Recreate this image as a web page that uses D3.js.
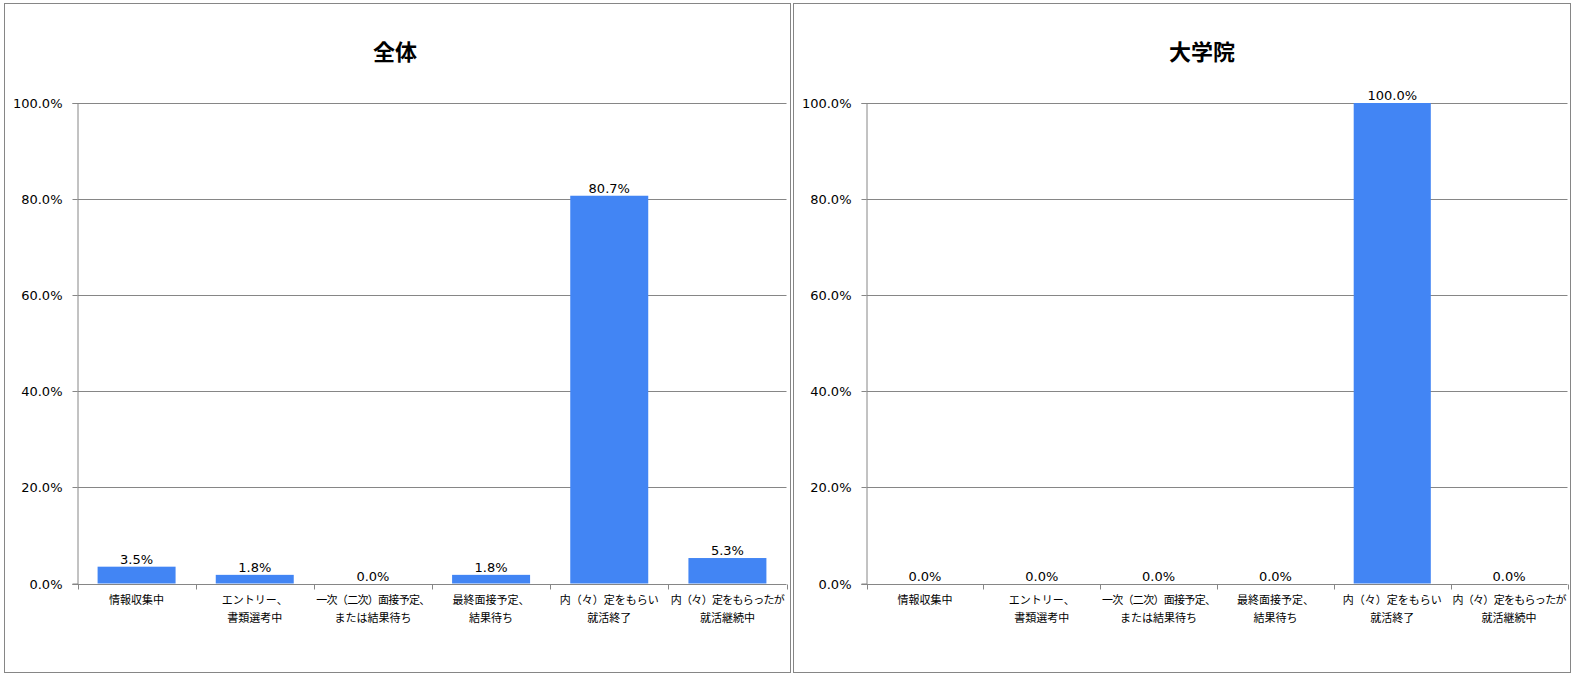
<!DOCTYPE html>
<html>
<head>
<meta charset="utf-8">
<script src="https://cdn.jsdelivr.net/npm/d3@7"></script>
<style>
  html, body { margin: 0; padding: 0; background: #fff; }
  svg { display: block; }
</style>
</head>
<body>
<svg id="chart" width="1577" height="678"></svg>
<script>
// Job-hunting status categories (two-line axis labels)
const categories = [
  ["情報収集中"],
  ["エントリー、", "書類選考中"],
  ["一次（二次）面接予定、", "または結果待ち"],
  ["最終面接予定、", "結果待ち"],
  ["内（々）定をもらい", "就活終了"],
  ["内（々）定をもらったが", "就活継続中"]
];

// Share of respondents (%) per category
const valuesAll = [3.5, 1.8, 0.0, 1.8, 80.7, 5.3];
const valuesGrad = [0.0, 0.0, 0.0, 0.0, 100.0, 0.0];

const yTicks = [0, 20, 40, 60, 80, 100];

const panels = [
  { title: "全体",   values: valuesAll,  box: [4.5, 3.5, 786, 669], plot: [77.5, 786.5], titleX: 395 },
  { title: "大学院", values: valuesGrad, box: [793.5, 3.5, 777, 669], plot: [866.5, 1567.5], titleX: 1202 }
];

const svg = d3.select("#chart");
const gridColor = "#868686";
const barColor = "#4285F4";
const numFont = "'DejaVu Sans', Verdana, sans-serif";
const cjkFont = "'Noto Sans CJK JP', 'Noto Sans', sans-serif";

panels.forEach(p => {
  const g = svg.append("g");

  // panel frame
  g.append("rect")
    .attr("x", p.box[0]).attr("y", p.box[1])
    .attr("width", p.box[2]).attr("height", p.box[3])
    .attr("fill", "#fff").attr("stroke", gridColor).attr("stroke-width", 1);

  // title
  g.append("text")
    .attr("x", p.titleX).attr("y", 60)
    .attr("text-anchor", "middle")
    .attr("font-family", cjkFont)
    .attr("font-weight", "bold")
    .attr("font-size", 22)
    .attr("fill", "#000")
    .text(p.title);

  const y = d3.scaleLinear().domain([0, 100]).range([583.5, 103]);
  const x = d3.scaleBand()
    .domain(d3.range(categories.length))
    .range(p.plot)
    .paddingInner(0.34)
    .paddingOuter(0.17);

  // horizontal gridlines
  g.append("g")
    .selectAll("line")
    .data(yTicks.filter(t => t > 0))
    .join("line")
    .attr("x1", p.plot[0]).attr("x2", p.plot[1])
    .attr("y1", d => Math.round(y(d)) + 0.5)
    .attr("y2", d => Math.round(y(d)) + 0.5)
    .attr("stroke", gridColor).attr("stroke-width", 1);

  // y axis
  const yAxis = g.append("g")
    .attr("transform", `translate(${p.plot[0]},0)`)
    .call(d3.axisLeft(y).tickValues(yTicks).tickSize(5).tickPadding(10)
      .tickFormat(d => d.toFixed(1) + "%"));
  yAxis.select(".domain").attr("stroke", gridColor);
  yAxis.selectAll(".tick line").attr("stroke", gridColor);
  yAxis.selectAll(".tick text")
    .attr("font-family", numFont).attr("font-size", 13).attr("fill", "#000");
  yAxis.selectAll(".tick").attr("transform", d => `translate(0,${Math.round(y(d)) + 0.5})`);

  // bars
  g.append("g")
    .selectAll("rect")
    .data(p.values)
    .join("rect")
    .attr("x", (d, i) => x(i))
    .attr("width", x.bandwidth())
    .attr("y", d => y(d))
    .attr("height", d => y(0) - y(d))
    .attr("fill", barColor);

  // value labels
  g.append("g")
    .selectAll("text")
    .data(p.values)
    .join("text")
    .attr("x", (d, i) => x(i) + x.bandwidth() / 2)
    .attr("y", d => y(d) - 3)
    .attr("text-anchor", "middle")
    .attr("font-family", numFont)
    .attr("font-size", 13)
    .attr("fill", "#000")
    .text(d => d.toFixed(1) + "%");

  // x axis baseline and category separators
  const step = (p.plot[1] - p.plot[0]) / categories.length;
  const base = Math.round(y(0)) + 0.5;
  g.append("line")
    .attr("x1", p.plot[0] - 5).attr("x2", p.plot[1])
    .attr("y1", base).attr("y2", base)
    .attr("stroke", gridColor);
  g.append("g")
    .selectAll("line")
    .data(d3.range(categories.length + 1))
    .join("line")
    .attr("x1", i => Math.round(p.plot[0] + i * step) + 0.5)
    .attr("x2", i => Math.round(p.plot[0] + i * step) + 0.5)
    .attr("y1", base).attr("y2", base + 5)
    .attr("stroke", gridColor);

  // category labels; long lines are tightened slightly to stay within their band
  const lab = g.append("g")
    .selectAll("text")
    .data(categories)
    .join("text")
    .attr("text-anchor", "middle")
    .attr("font-family", cjkFont)
    .attr("font-size", 11)
    .attr("fill", "#000")
    .attr("transform", (d, i) => `translate(${x(i) + x.bandwidth() / 2},0)`);
  lab.selectAll("tspan")
    .data(d => d)
    .join("tspan")
    .attr("x", 0)
    .attr("y", (d, j) => 604 + j * 18)
    .attr("letter-spacing", d => d.length >= 10 ? -0.7 : 0)
    .text(d => d);
});
</script>
</body>
</html>
